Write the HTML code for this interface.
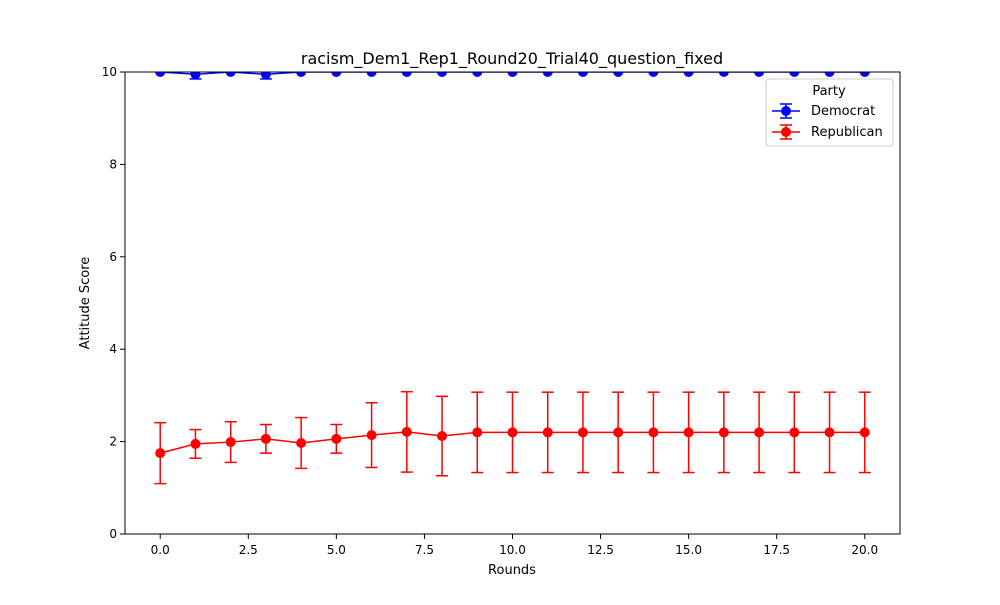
<!DOCTYPE html>
<html><head><meta charset="utf-8"><style>body{margin:0;background:#fff}svg{font-family:"DejaVu Sans","Liberation Sans",sans-serif}</style></head>
<body>
<svg id="chart" width="1000" height="600" xmlns="http://www.w3.org/2000/svg"></svg>
<script>
const rounds=[0,1,2,3,4,5,6,7,8,9,10,11,12,13,14,15,16,17,18,19,20];
const demValues=[10,9.95,10,9.95,10,10,10,10,10,10,10,10,10,10,10,10,10,10,10,10,10];
const demErrors=[0,0.1,0,0.1,0,0,0,0,0,0,0,0,0,0,0,0,0,0,0,0,0];
const repValues=[1.75,1.95,1.99,2.06,1.97,2.06,2.14,2.21,2.12,2.2,2.2,2.2,2.2,2.2,2.2,2.2,2.2,2.2,2.2,2.2,2.2];
const repErrors=[0.66,0.31,0.44,0.31,0.55,0.31,0.70,0.87,0.86,0.87,0.87,0.87,0.87,0.87,0.87,0.87,0.87,0.87,0.87,0.87,0.87];
const xTicks=[0,2.5,5,7.5,10,12.5,15,17.5,20];
const xTickLabels=["0.0","2.5","5.0","7.5","10.0","12.5","15.0","17.5","20.0"];
const yTicks=[0,2,4,6,8,10];
const yTickLabels=["0","2","4","6","8","10"];
const L=125,R=900,T=72,B=534;
const X=v=>L+(v+1)/22*(R-L);
const Y=v=>B-v/10*(B-T);
const svg=document.getElementById('chart');
const NS="http://www.w3.org/2000/svg";
function mk(tag,attrs,parent){const e=document.createElementNS(NS,tag);for(const k in attrs)e.setAttribute(k,attrs[k]);(parent||svg).appendChild(e);return e;}
const defs=mk('defs',{});const cp=mk('clipPath',{id:'clip'},defs);mk('rect',{x:L,y:T,width:R-L,height:B-T},cp);
const title=mk('text',{x:512,y:64,'text-anchor':'middle','font-size':16});title.textContent='racism_Dem1_Rep1_Round20_Trial40_question_fixed';


xTicks.forEach((t,i)=>{mk('line',{x1:X(t),x2:X(t),y1:B,y2:B+5,stroke:'#000'});const tx=mk('text',{x:X(t),y:B+20,'text-anchor':'middle','font-size':12});tx.textContent=xTickLabels[i];

});
yTicks.forEach((t,i)=>{mk('line',{x1:L-5,x2:L,y1:Y(t),y2:Y(t),stroke:'#000'});const tx=mk('text',{x:L-8,y:Y(t)+4,'text-anchor':'end','font-size':12});tx.textContent=yTickLabels[i];

});
const xl=mk('text',{x:512,y:574,'text-anchor':'middle','font-size':13});xl.textContent='Rounds';


const yl=mk('text',{x:89,y:303,'text-anchor':'middle','font-size':13,transform:'rotate(-90 89 303)'});yl.textContent='Attitude Score';


function series(vals,errs,color,name){
 const g=mk('g',{'clip-path':'url(#clip)'});
 
 
 vals.forEach((v,i)=>{if(errs[i]>0){const x=X(rounds[i]);mk('line',{x1:x,x2:x,y1:Y(v+errs[i]),y2:Y(v-errs[i]),stroke:color,'stroke-width':1.5},g);
 [v+errs[i],v-errs[i]].forEach(e=>mk('line',{x1:x-6,x2:x+6,y1:Y(e),y2:Y(e),stroke:color,'stroke-width':1.5},g));}});
 mk('polyline',{points:vals.map((v,i)=>X(rounds[i])+','+Y(v)).join(' '),fill:'none',stroke:color,'stroke-width':1.5},g);
 vals.forEach((v,i)=>{const c=mk('circle',{cx:X(rounds[i]),cy:Y(v),r:5,fill:color},g);
 
 });
}
series(demValues,demErrors,'#0000ff','democrat');
series(repValues,repErrors,'#ff0000','republican');
mk('rect',{x:L,y:T,width:R-L,height:B-T,fill:'none',stroke:'#000','stroke-width':1});
const lg=mk('g',{});


mk('rect',{x:766,y:79,width:127,height:67,rx:3,fill:'#fff',stroke:'#ccc'},lg);
const lt=mk('text',{x:829,y:95,'text-anchor':'middle','font-size':13},lg);lt.textContent='Party';
[['Democrat','#0000ff',111],['Republican','#ff0000',132]].forEach(([n,c,y])=>{
 mk('line',{x1:772,x2:800,y1:y,y2:y,stroke:c,'stroke-width':1.5},lg);
 mk('line',{x1:786,x2:786,y1:y-7,y2:y+7,stroke:c,'stroke-width':1.5},lg);
 mk('line',{x1:780,x2:792,y1:y-7,y2:y-7,stroke:c,'stroke-width':1.5},lg);
 mk('line',{x1:780,x2:792,y1:y+7,y2:y+7,stroke:c,'stroke-width':1.5},lg);
 mk('circle',{cx:786,cy:y,r:5,fill:c},lg);
 const t=mk('text',{x:811,y:y+4,'font-size':13},lg);t.textContent=n;
 
 
});
</script>
</body></html>
